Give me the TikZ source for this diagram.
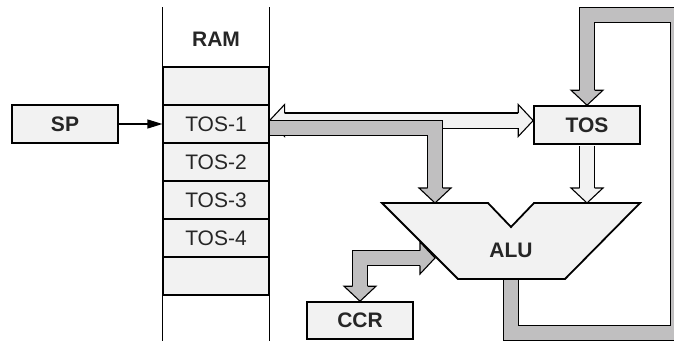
\documentclass[tikz,border=0pt]{standalone}
\usepackage{fontspec}
\setmainfont{Liberation Sans}
\usetikzlibrary{arrows.meta, positioning, calc}
\definecolor{regFill}{RGB}{242,242,242}
\definecolor{busGray}{RGB}{192,191,192}
\definecolor{labelInk}{RGB}{38,38,38}

\begin{document}
\begin{tikzpicture}[
    x=1pt, y=-1pt,
    font=\fontsize{21}{25}\selectfont,
    text=labelInk,
    cell/.style={draw, line width=1.2pt, fill=regFill, inner sep=0pt,
                 minimum width=106pt, minimum height=38pt},
    reg/.style={draw, line width=1.6pt, fill=regFill, inner sep=0pt,
                minimum width=106pt, minimum height=38pt,
                font=\fontsize{21}{25}\selectfont\bfseries},
    lbl/.style={font=\fontsize{21}{25}\selectfont\bfseries},
    bus/.style={draw=black, line width=1.1pt, double distance=14pt, line join=miter},
    graybus/.style={bus, double=busGray},
    whitebus/.style={bus, double=regFill},
    headline/.style={draw=black, line width=1.1pt, line join=miter},
    headdown/.pic={\path[headline, pic actions] (-7.5,-15) -- (-16,-15) -- (0,0) -- (16,-15) -- (7.5,-15);},
    headright/.pic={\path[headline, pic actions] (-15,-7.5) -- (-15,-16) -- (0,0) -- (-15,16) -- (-15,7.5);},
    headleft/.pic={\path[headline, pic actions] (15,-7.5) -- (15,-16) -- (0,0) -- (15,16) -- (15,7.5);}
]
\useasboundingbox (0,0) rectangle (674,340);
\clip (0,0) rectangle (674,340);

% RAM stack
\foreach \i/\txt in {0/{},1/TOS-1,2/TOS-2,3/TOS-3,4/TOS-4,5/{}}
  \node[cell] (c\i) at (216,{86+38*\i}) {\txt};
\coordinate (ramtop) at (0,7);
\coordinate (rambot) at (0,341);
\draw[line width=1.2pt] (c0.north west |- ramtop) -- (c5.south west |- rambot);
\draw[line width=1.2pt] (c0.north east |- ramtop) -- (c5.south east |- rambot);
\node[lbl] (ram) at (216,39) {RAM};

% registers
\node[reg] (sp) at (65,124) {SP};
\node[reg] (tos) at (587,125) {TOS};
\node[reg, minimum height=37pt] (ccr) at (360,320.5) {CCR};

\draw[line width=1.2pt, -{Triangle[length=15pt,width=9pt]}] (sp) -- (c1);

% ALU inputs and outputs
\coordinate (alu-in1) at (435,203);
\coordinate (alu-in2) at (tos.south |- alu-in1);
\coordinate (alu-in3) at (435,258);
\coordinate (alu-out) at (511,279);
\coordinate (loop-se) at (678,333);
\coordinate (loop-ne) at (678,15);

% TOS-1 <-> TOS
\coordinate (wl) at ($(c1.east)+(0,-3.5)$);
\coordinate (wr) at (wl -| tos.west);
\draw[whitebus] ($(wl)+(14,0)$) -- ($(wr)+(-14,0)$);
\pic[fill=regFill] at (wl) {headleft};
\pic[fill=regFill] at (wr) {headright};

% TOS-1 -> ALU
\coordinate (g1) at ($(c1.east)+(0.6,4)$);
\draw[graybus] (g1) -- (g1 -| alu-in1) -- ($(alu-in1)+(0,-14)$);
\pic[fill=busGray] at (alu-in1) {headdown};

% TOS -> ALU
\draw[whitebus] ($(tos.south)+(0,0.8)$) -- ($(alu-in2)+(0,-14)$);
\pic[fill=regFill] at (alu-in2) {headdown};

% ALU result back into TOS
\draw[graybus] (alu-out) -- (alu-out |- loop-se) -- (loop-se) -- (loop-ne)
   -- (loop-ne -| tos.north) -- ($(tos.north)+(0,-14)$);
\pic[fill=busGray] at (tos.north) {headdown};

% ALU <-> CCR
\draw[graybus] ($(alu-in3)+(-14,0)$) -- (ccr.north |- alu-in3) -- ($(ccr.north)+(0,-14)$);
\pic[fill=busGray] at (alu-in3) {headright};
\pic[fill=busGray] at (ccr.north) {headdown};

% ALU body
\draw[line width=1.8pt, fill=regFill, line join=miter]
  (382,203) -- (488,203) -- (511,227) -- (534,203) -- (640,203)
  -- (565,279) -- (458,279) -- cycle;
\node[lbl] (alu) at (511,250) {ALU};

\end{tikzpicture}
\end{document}
